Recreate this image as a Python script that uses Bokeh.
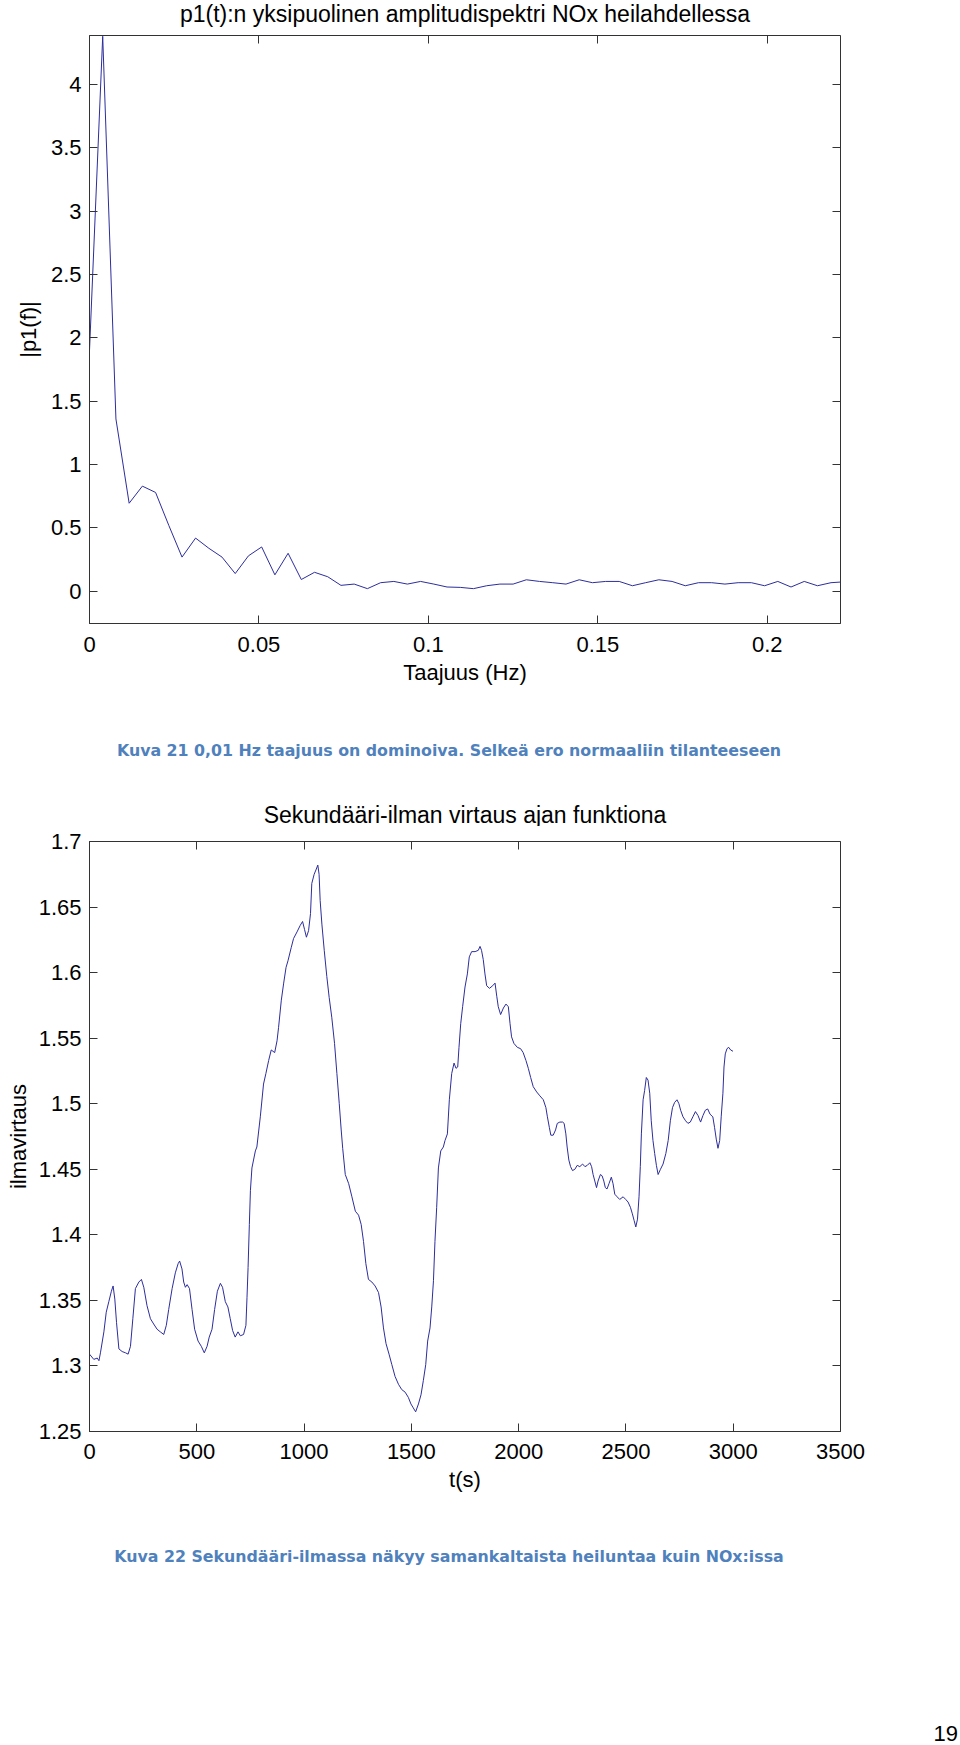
from bokeh.plotting import figure
from bokeh.layouts import column
from bokeh.models import Range1d, FixedTicker, LinearAxis, CustomJSTickFormatter, ColumnDataSource
from bokeh.core.properties import value
from bokeh.embed import file_html
from bokeh.resources import INLINE

# ---------------- data: spectrum ----------------
spec_title = "p1(t):n yksipuolinen amplitudispektri NOx heilahdellessa"
spec_xlabel = "Taajuus (Hz)"
spec_ylabel = "|p1(f)|"
freq_hz = [0.0, 0.0039, 0.0078, 0.0117, 0.0156, 0.0195, 0.0234, 0.0273, 0.0313, 0.0352,
           0.0391, 0.0430, 0.0469, 0.0508, 0.0547, 0.0586, 0.0625, 0.0664, 0.0703, 0.0742,
           0.0781, 0.0820, 0.0859, 0.0898, 0.0938, 0.0977, 0.1016, 0.1055, 0.1094, 0.1133,
           0.1172, 0.1211, 0.1250, 0.1289, 0.1328, 0.1367, 0.1406, 0.1445, 0.1484, 0.1523,
           0.1563, 0.1602, 0.1641, 0.1680, 0.1719, 0.1758, 0.1797, 0.1836, 0.1875, 0.1914,
           0.1953, 0.1992, 0.2031, 0.2070, 0.2109, 0.2148, 0.2188, 0.2227]
amplitude = [1.90, 4.38, 1.36, 0.695, 0.83, 0.78, 0.52, 0.27, 0.42, 0.34,
             0.27, 0.14, 0.28, 0.35, 0.13, 0.30, 0.093, 0.15, 0.115, 0.047,
             0.057, 0.021, 0.068, 0.078, 0.057, 0.078, 0.057, 0.034, 0.031, 0.021,
             0.044, 0.057, 0.057, 0.091, 0.078, 0.068, 0.057, 0.091, 0.068, 0.078,
             0.078, 0.044, 0.068, 0.091, 0.078, 0.044, 0.068, 0.068, 0.057, 0.068,
             0.068, 0.044, 0.078, 0.034, 0.078, 0.044, 0.068, 0.075]
spec_xticks = [0, 0.05, 0.1, 0.15, 0.2]
spec_yticks = [0, 0.5, 1, 1.5, 2, 2.5, 3, 3.5, 4]
spec_xrange = (0.0, 0.2216)
spec_yrange = (-0.254, 4.386)
caption1 = "Kuva 21 0,01 Hz taajuus on dominoiva. Selkeä ero normaaliin tilanteeseen"

# ---------------- data: secondary air flow ----------------
flow_title = "Sekundääri-ilman virtaus ajan funktiona"
flow_xlabel = "t(s)"
flow_ylabel = "ilmavirtaus"
time_s = [0, 20, 36, 44, 51, 67, 78, 90, 102, 110, 118, 126, 137, 152, 168, 180, 191, 202, 214, 230,
          242, 253, 268, 284, 299, 315, 330, 346, 358, 369, 385, 400, 413, 420, 431, 439, 447, 455, 466, 478,
          490, 506, 521, 535, 548, 558, 571, 583, 596, 610, 620, 633, 645, 656, 667, 679, 692, 703, 718, 729,
          734, 739, 745, 750, 757, 773, 780, 796, 811, 822, 835, 847, 863, 874, 881, 894, 905, 916, 925, 940,
          951, 967, 982, 993, 1002, 1011, 1021, 1030, 1036, 1047, 1057, 1064, 1070, 1075, 1083, 1094, 1106, 1117, 1129, 1142,
          1153, 1164, 1173, 1180, 1192, 1208, 1223, 1239, 1254, 1266, 1277, 1288, 1300, 1316, 1331, 1347, 1359, 1370, 1382, 1396,
          1409, 1424, 1440, 1455, 1471, 1486, 1498, 1509, 1520, 1533, 1545, 1556, 1567, 1576, 1587, 1595, 1603, 1610, 1618, 1626,
          1637, 1649, 1657, 1668, 1677, 1688, 1699, 1708, 1716, 1722, 1730, 1739, 1750, 1761, 1770, 1781, 1797, 1812, 1820, 1827,
          1835, 1843, 1851, 1864, 1879, 1890, 1898, 1905, 1916, 1929, 1941, 1952, 1960, 1967, 1978, 1994, 2009, 2021, 2034, 2045,
          2056, 2068, 2084, 2099, 2115, 2127, 2134, 2143, 2150, 2161, 2172, 2180, 2192, 2205, 2212, 2220, 2226, 2234, 2242, 2251,
          2262, 2273, 2285, 2298, 2309, 2320, 2332, 2340, 2347, 2355, 2363, 2370, 2381, 2389, 2397, 2404, 2412, 2421, 2432, 2440,
          2448, 2459, 2471, 2487, 2499, 2510, 2521, 2530, 2538, 2546, 2554, 2561, 2567, 2572, 2580, 2587, 2595, 2603, 2611, 2618,
          2626, 2634, 2642, 2650, 2661, 2673, 2686, 2697, 2707, 2717, 2727, 2738, 2747, 2755, 2766, 2778, 2789, 2800, 2812, 2824,
          2836, 2848, 2859, 2870, 2881, 2892, 2905, 2913, 2921, 2929, 2937, 2944, 2952, 2957, 2963, 2971, 2979, 2988, 2999]
air_flow = [1.309, 1.305, 1.306, 1.304, 1.310, 1.326, 1.341, 1.349, 1.357, 1.361, 1.351, 1.333, 1.313, 1.311, 1.310, 1.309, 1.315, 1.336, 1.359, 1.364,
            1.366, 1.360, 1.346, 1.336, 1.332, 1.328, 1.326, 1.324, 1.331, 1.343, 1.359, 1.371, 1.378, 1.380, 1.374, 1.364, 1.360, 1.362, 1.359, 1.343,
            1.328, 1.319, 1.315, 1.310, 1.315, 1.322, 1.328, 1.343, 1.357, 1.363, 1.360, 1.349, 1.345, 1.336, 1.327, 1.322, 1.326, 1.323, 1.324, 1.331,
            1.352, 1.375, 1.408, 1.434, 1.451, 1.464, 1.467, 1.490, 1.515, 1.523, 1.533, 1.541, 1.539, 1.548, 1.558, 1.579, 1.592, 1.604, 1.609, 1.619,
            1.626, 1.631, 1.636, 1.639, 1.633, 1.627, 1.632, 1.645, 1.668, 1.675, 1.679, 1.682, 1.675, 1.655, 1.637, 1.617, 1.597, 1.581, 1.566, 1.546,
            1.523, 1.500, 1.480, 1.466, 1.446, 1.439, 1.429, 1.418, 1.415, 1.408, 1.395, 1.378, 1.366, 1.364, 1.361, 1.356, 1.345, 1.329, 1.317, 1.309,
            1.301, 1.292, 1.286, 1.282, 1.280, 1.276, 1.271, 1.268, 1.265, 1.271, 1.278, 1.289, 1.301, 1.319, 1.329, 1.345, 1.365, 1.395, 1.421, 1.451,
            1.464, 1.467, 1.472, 1.477, 1.503, 1.523, 1.531, 1.527, 1.528, 1.543, 1.561, 1.574, 1.589, 1.599, 1.612, 1.616, 1.616, 1.617, 1.620, 1.617,
            1.610, 1.599, 1.590, 1.588, 1.590, 1.592, 1.582, 1.574, 1.568, 1.573, 1.576, 1.574, 1.561, 1.551, 1.546, 1.543, 1.542, 1.539, 1.533, 1.527,
            1.520, 1.513, 1.509, 1.506, 1.503, 1.497, 1.490, 1.482, 1.476, 1.476, 1.480, 1.485, 1.486, 1.486, 1.485, 1.477, 1.467, 1.457, 1.452, 1.449,
            1.450, 1.453, 1.452, 1.454, 1.452, 1.453, 1.455, 1.452, 1.446, 1.441, 1.436, 1.441, 1.446, 1.445, 1.441, 1.436, 1.435, 1.439, 1.444, 1.439,
            1.431, 1.429, 1.427, 1.429, 1.427, 1.425, 1.421, 1.416, 1.411, 1.406, 1.412, 1.429, 1.452, 1.477, 1.503, 1.510, 1.520, 1.518, 1.508, 1.487,
            1.472, 1.462, 1.453, 1.446, 1.450, 1.454, 1.462, 1.472, 1.487, 1.497, 1.501, 1.503, 1.500, 1.495, 1.490, 1.487, 1.485, 1.486, 1.490, 1.494,
            1.491, 1.486, 1.491, 1.495, 1.496, 1.492, 1.490, 1.482, 1.473, 1.466, 1.472, 1.490, 1.508, 1.528, 1.538, 1.542, 1.543, 1.541, 1.540]
flow_xticks = [0, 500, 1000, 1500, 2000, 2500, 3000, 3500]
flow_yticks = [1.25, 1.3, 1.35, 1.4, 1.45, 1.5, 1.55, 1.6, 1.65, 1.7]
flow_xrange = (0, 3500)
flow_yrange = (1.25, 1.7)
caption2 = "Kuva 22 Sekundääri-ilmassa näkyy samankaltaista heiluntaa kuin NOx:issa"
page_number = "19"

# ---------------- style ----------------
FONT = "Liberation Sans"
CAP_FONT = "DejaVu Sans"
LINE_COLOR = "#2d2d9c"
AX_COLOR = "#333333"
CAP_COLOR = "#4F81BD"
W = 960
FRAME_L, FRAME_R = 89, 841

fmt = CustomJSTickFormatter(code="return String(Number(tick.toFixed(4)));")


def base_plot(height, top, bottom, xr, yr, xt, yt, xlabel, ylabel,
              xtick_standoff, xlab_standoff, ylab_standoff):
    p = figure(width=W, height=height, output_backend="svg", toolbar_location=None,
               title=None, x_range=Range1d(*xr), y_range=Range1d(*yr),
               min_border_left=FRAME_L, min_border_right=W - FRAME_R,
               min_border_top=top, min_border_bottom=bottom,
               background_fill_color="white", border_fill_color="white")
    p.grid.visible = False
    p.outline_line_color = AX_COLOR
    p.outline_line_width = 1
    for ax in (p.xaxis[0], p.yaxis[0]):
        ax.major_tick_in = 8
        ax.major_tick_out = 0
        ax.minor_tick_line_color = None
        ax.axis_line_color = AX_COLOR
        ax.major_tick_line_color = AX_COLOR
        ax.major_label_text_font = FONT
        ax.major_label_text_font_size = "22px"
        ax.major_label_text_color = "black"
        ax.axis_label_text_font = FONT
        ax.axis_label_text_font_size = "22px"
        ax.axis_label_text_font_style = "normal"
        ax.axis_label_text_color = "black"
        ax.formatter = fmt
    p.xaxis[0].ticker = FixedTicker(ticks=xt)
    p.yaxis[0].ticker = FixedTicker(ticks=yt)
    p.xaxis[0].axis_label = xlabel
    p.yaxis[0].axis_label = ylabel
    p.xaxis[0].major_label_standoff = xtick_standoff
    p.xaxis[0].axis_label_standoff = xlab_standoff
    p.yaxis[0].major_label_standoff = 8
    p.yaxis[0].axis_label_standoff = ylab_standoff
    # mirrored tick marks on the top and right edges (no labels, no layout space)
    top_ax = LinearAxis(ticker=FixedTicker(ticks=xt), fixed_location=yr[1],
                        major_tick_in=8, major_tick_out=0,
                        minor_tick_line_color=None, axis_line_color=AX_COLOR,
                        major_tick_line_color=AX_COLOR, major_label_standoff=0,
                        major_label_overrides={t: "" for t in xt})
    right_ax = LinearAxis(ticker=FixedTicker(ticks=yt), fixed_location=xr[1],
                          major_tick_in=8, major_tick_out=0,
                          minor_tick_line_color=None, axis_line_color=AX_COLOR,
                          major_tick_line_color=AX_COLOR, major_label_standoff=0,
                          major_label_overrides={t: "" for t in yt})
    p.add_layout(top_ax, "above")
    p.add_layout(right_ax, "right")
    return p


def text_panel(height, items):
    # page-pixel coordinate system: x = page x, y = distance from the panel top
    p = figure(width=W, height=height, output_backend="svg", toolbar_location=None,
               title=None, x_range=Range1d(FRAME_L, FRAME_R), y_range=Range1d(height, 0),
               min_border_left=FRAME_L, min_border_right=W - FRAME_R,
               min_border_top=0, min_border_bottom=0,
               x_axis_location=None, y_axis_location=None,
               background_fill_color="white", border_fill_color="white")
    p.outline_line_color = None
    p.grid.visible = False
    for (x, y, txt, font, size, style, color, align) in items:
        p.text(x=[x], y=[y], text=[txt], text_font=value(font), text_font_size=size,
               text_font_style=style, text_color=color, text_align=align,
               text_baseline="middle")
    return p


TITLE_X = (FRAME_L + FRAME_R) / 2

# page rows: title1 0..33, plot1 33..700 (frame 35..623), caption1 700..790,
#            title2 790..826, plot2 826..1500 (frame 841..1431), caption2 1500..1721, page no. 1721..1745
t1 = text_panel(33, [(TITLE_X, 13, spec_title, FONT, "23px", "normal", "black", "center")])

p1 = base_plot(667, 2, 77, spec_xrange, spec_yrange, spec_xticks, spec_yticks,
               spec_xlabel, spec_ylabel,
               xtick_standoff=13, xlab_standoff=5, ylab_standoff=7)
p1.line(x=freq_hz, y=amplitude, line_color=LINE_COLOR, line_width=1)

cap1 = text_panel(90, [(449, 50, caption1, CAP_FONT, "15.8px", "bold", CAP_COLOR, "center")])

t2 = text_panel(36, [(TITLE_X, 24, flow_title, FONT, "23px", "normal", "black", "center")])

p2 = base_plot(674, 15, 69, flow_xrange, flow_yrange, flow_xticks, flow_yticks,
               flow_xlabel, flow_ylabel,
               xtick_standoff=12, xlab_standoff=5, ylab_standoff=5)
src = ColumnDataSource(dict(t=time_s, v=air_flow))
p2.line(x="t", y="v", source=src, line_color=LINE_COLOR, line_width=1)

cap2 = text_panel(221, [(449, 56, caption2, CAP_FONT, "15.8px", "bold", CAP_COLOR, "center")])

# page number: horizontal axis label of an otherwise invisible right axis
pn = text_panel(24, [])
pn_axis = LinearAxis(ticker=FixedTicker(ticks=[]), axis_line_color=None,
                     major_tick_line_color=None, minor_tick_line_color=None,
                     major_tick_in=0, major_tick_out=0, major_label_standoff=0,
                     axis_label=page_number, axis_label_orientation="horizontal",
                     axis_label_standoff=93, axis_label_text_font=FONT,
                     axis_label_text_font_size="22px", axis_label_text_font_style="normal",
                     axis_label_text_color="black")
pn.add_layout(pn_axis, "right")

layout = column(t1, p1, cap1, t2, p2, cap2, pn, spacing=0)
open("out.html", "w").write(file_html(layout, INLINE))
